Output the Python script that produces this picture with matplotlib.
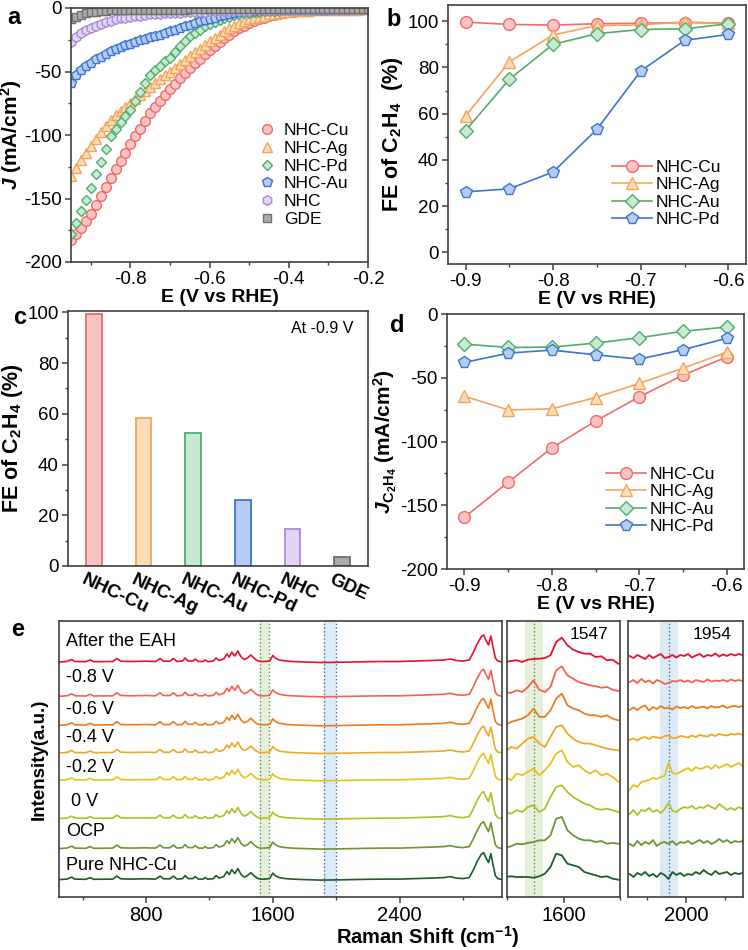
# Electrochemistry + Raman summary figure (panels a-e)

import numpy as np
import matplotlib.pyplot as plt
import matplotlib.transforms as mtransforms
from matplotlib.ticker import MultipleLocator

plt.rcParams['font.family'] = ['Liberation Sans', 'DejaVu Sans']
plt.rcParams['axes.unicode_minus'] = False
plt.rcParams['mathtext.fontset'] = 'custom'
plt.rcParams['mathtext.rm'] = 'Liberation Sans:bold'
plt.rcParams['mathtext.bf'] = 'Liberation Sans:bold'
plt.rcParams['mathtext.it'] = 'Liberation Sans:bold:italic'
plt.rcParams['axes.linewidth'] = 1.2
plt.rcParams['axes.edgecolor'] = '#404040'

# ---------------- data ----------------
# a: LSV curves
E_lsv = np.linspace(-0.95, -0.2, 61)
j_cu = [-183, -178, -173, -167.5, -162, -155, -148, -141, -134, -127,
        -120.5, -114, -107, -101, -95, -89, -83, -78, -73, -68.5,
        -64, -59.5, -55.5, -51, -47, -43.5, -40, -36.5, -33, -30,
        -27, -24, -21, -18.5, -16, -14, -12, -10.5, -9, -7.7,
        -6.5, -5.6, -4.8, -4.1, -3.5, -3.1, -2.7, -2.3, -2.0, -1.9,
        -1.8, -1.6, -1.5, -1.4, -1.3, -1.3, -1.2, -1.1, -1.1, -1.0, -1.0]
j_ag = [-132, -126, -120, -114.5, -109, -103.5, -98, -93, -88, -84.5,
        -81, -78, -75, -71.5, -68.5, -65, -62, -59, -56, -53,
        -50, -47, -44, -41, -38, -35, -32, -29, -26, -23.5,
        -21, -18.5, -16, -14, -12, -10.5, -9, -8, -7, -6,
        -5, -4.4, -3.9, -3.4, -3, -2.7, -2.4, -2.2, -2, -1.9,
        -1.8, -1.7, -1.6, -1.5, -1.4, -1.4, -1.3, -1.2, -1.2, -1.1, -1.1]
j_pd = [-178, -169, -160, -151, -142, -131, -121, -111, -101, -95,
        -90, -85, -80, -73, -66, -59, -53, -49, -45.5, -42,
        -39, -34.5, -30, -26, -22, -19.5, -17, -14.5, -12.5, -10.8,
        -9.3, -8, -6.8, -5.8, -5, -4.2, -3.6, -3.2, -2.9, -2.6,
        -2.4, -2.2, -2.0, -1.9, -1.8, -1.7, -1.6, -1.5, -1.5, -1.4,
        -1.4, -1.3, -1.3, -1.2, -1.2, -1.2, -1.1, -1.1, -1.1, -1.0, -1.0]
j_au = [-59, -53, -49, -46, -43, -40.5, -38.5, -36, -34, -32.5,
        -31, -29.5, -28, -27, -25.5, -24.5, -23, -22, -21, -19.5,
        -18, -17, -15.5, -14.5, -13, -12, -10.5, -9.5, -8.5, -7.5,
        -6.5, -5.5, -4.5, -3.8, -3.2, -2.7, -2.3, -2.0, -1.9, -1.8,
        -1.7, -1.6, -1.6, -1.5, -1.5, -1.4, -1.4, -1.3, -1.3, -1.3,
        -1.2, -1.2, -1.2, -1.1, -1.1, -1.1, -1.0, -1.0, -1.0, -1.0, -1.0]
j_nhc = [-27, -23, -20, -17.5, -15.5, -14, -12.5, -11, -10, -9,
         -8, -7.5, -7, -6.5, -6, -5.5, -5, -4.8, -4.5, -4.2,
         -4, -3.8, -3.6, -3.4, -3.2, -3.0, -2.9, -2.8, -2.7, -2.6,
         -2.5, -2.4, -2.3, -2.2, -2.1, -2.0, -2.0, -1.9, -1.9, -1.8,
         -1.8, -1.7, -1.7, -1.6, -1.6, -1.5, -1.5, -1.5, -1.4, -1.4,
         -1.4, -1.3, -1.3, -1.3, -1.2, -1.2, -1.2, -1.2, -1.1, -1.1, -1.1]
j_gde = [-9, -7, -5.5, -4.3, -3.5, -2.8, -2.3, -2.0, -1.7, -1.6,
         -1.5, -1.5, -1.4, -1.4, -1.4, -1.3, -1.3, -1.3, -1.3, -1.2,
         -1.2, -1.2, -1.2, -1.2, -1.1, -1.1, -1.1, -1.1, -1.1, -1.1,
         -1.0, -1.0, -1.0, -1.0, -1.0, -1.0, -1.0, -1.0, -1.0, -1.0,
         -1.0, -0.9, -0.9, -0.9, -0.9, -0.9, -0.9, -0.9, -0.9, -0.9,
         -0.9, -0.9, -0.9, -0.9, -0.9, -0.9, -0.9, -0.9, -0.9, -0.9, -0.9]

# b, d: FE and partial current density
E_fe = [-0.9, -0.85, -0.8, -0.75, -0.7, -0.65, -0.6]
fe_cu = [99.6, 98.6, 98.3, 98.9, 99.1, 99.4, 99.2]
fe_ag = [59.0, 82.4, 94.1, 98.1, 98.4, 99.6, 99.0]
fe_au = [52.7, 74.9, 90.0, 94.6, 96.4, 96.7, 98.9]
fe_pd = [26.2, 27.5, 34.8, 53.3, 78.5, 91.7, 94.3]
jc_cu = [-159.4, -132, -105, -84, -65, -48, -33.8]
jc_ag = [-64.5, -75.2, -74.4, -65.5, -54.5, -42.5, -30.1]
jc_au = [-23.6, -26.2, -26, -22.8, -18.6, -13.6, -10.2]
jc_pd = [-38, -30.7, -28.3, -32, -35.4, -28, -19.1]

# c: FE at -0.9 V
bar_names = ['NHC-Cu', 'NHC-Ag', 'NHC-Au', 'NHC-Pd', 'NHC', 'GDE']
bar_fe = [99.4, 58.4, 52.6, 25.9, 14.5, 3.6]

# e: Raman spectra
trace_labels = ['After the EAH', '-0.8 V', '-0.6 V', '-0.4 V', '-0.2 V', ' 0 V', 'OCP', 'Pure NHC-Cu']
raman_shift = [250, 300, 330, 350, 420, 446, 470, 590, 615, 640,
               700, 800, 860, 888, 910, 950, 972, 995, 1030, 1046,
               1065, 1095, 1110, 1130, 1160, 1173, 1190, 1225, 1242, 1260,
               1290, 1310, 1325, 1341, 1360, 1379, 1400, 1420, 1440, 1461,
               1480, 1500, 1520, 1550, 1580, 1600, 1615, 1640, 1680, 1720,
               1800, 1900, 2000, 2100, 2200, 2300, 2400, 2500, 2600, 2680,
               2720, 2760, 2800, 2840, 2864, 2890, 2915, 2931, 2945, 2962,
               2977, 2990, 3005, 3020, 3050]
raman_base = [0, 0.5, 2.5, 0.5, 0.3, 2, 0.3, 0.5, 3.5, 0.8,
              0.5, 0.8, 0.5, 3.5, 0.8, 0.8, 3.5, 0.5, 1, 4,
              1, 1, 3, 0.5, 0.5, 2, 0.3, 1, 4, 1.5,
              3, 8, 5, 10, 6, 11, 5, 2.5, 4, 7,
              4, 1.5, 0.5, 0.5, 1, 6.5, 4, 2, 1, 0.5,
              0, -0.5, -0.3, 0, 0.3, 0.5, 0.5, 1, 1.5, 2,
              3, 1.5, 1, 2, 9, 18, 25, 27, 22, 17,
              26, 15, 4, 1, 0]
main_offsets = [235, 200.7, 171.7, 144, 116.7, 78.4, 48.4, 17.4]

shift_1547 = np.arange(1497, 1700, 10)
spec_1547 = [
    [0, 1, 1.7, 0, 2.3, 3, 3.3, 4, 6.7, 20, 24.3, 16.7, 12.3, 10, 8.3, 8.3, 5, 5.7, 1.7, 2.3, -1.7],
    [0, -1, 1.7, 0, 5, 11.7, 2.3, 0, 5, 21.7, 25.7, 16.7, 13.3, 10, 8.3, 6.7, 5.7, 4.3, 5, 2.3, 1],
    [-1.7, 1.7, 3.3, 5, 8.3, 15, 6.7, 6.7, 13.3, 25, 30, 18.3, 15, 13.3, 10, 8.3, 8.3, 6.7, 8.3, 5, 3.3],
    [-1.7, 3.3, 1.7, 6.7, 11.7, 13.3, 6.7, 3.3, 13.3, 23.3, 25, 16.7, 11.7, 8.3, 6.7, 6.7, 5, 3.3, 1.7, 0.7, 0],
    [1.7, -1.7, 5, 3.3, 6.7, 10, 3.3, 8.3, 15, 25, 28.3, 16.7, 11.7, 13.3, 8.3, 5, 8.3, 3.3, 5, 1.7, -3.3],
    [0, -1.7, 1.7, 0, 5, 6.7, 0, 3.3, 15, 25, 26.7, 20, 15, 11.7, 8.3, 6.7, 3.3, 2.3, 3.3, 1.7, 0],
    [-0.7, 0.7, 3.3, 2.7, 4, 5, 6.7, 6.7, 11.7, 28.3, 30, 16.7, 11.7, 8.3, 6.7, 6.7, 5, 6, 3.3, 4, 3.3],
    [0, 0.7, 0, 0, 0, -0.7, 0.7, 3.3, 10, 23.3, 21.7, 13.3, 11.7, 10, 5, 3.3, 1.7, 0, 0.7, -1.7, -2.7],
]
offsets_1547 = [235, 205, 173.4, 146.7, 118.4, 85, 50, 20]

shift_1954 = np.arange(1854, 2145, 10)
spec_1954 = [
    [1, -1, 2, 0, -2, 2, -1, 1, 3, -1, 0, 2, -0.5, 2, 1, 3, -0.5, 1.5, 3, 0, 2, 1, 3.5, 0.5, 2.5, 1, 3, 1.5, 3, 2],
    [0, 2, -1, 3, 0, 1.5, -1.5, 2, 0.5, -2, -1, 1, 0.5, 2, 0, 1.5, -0.5, 2, 1, 0, 2.5, 0.5, 1.5, 1, 2, 0.5, 2.5, 1, 2, 1],
    [-1, 1.5, -1, 2, 3.5, -1.5, 2, 0, 3, 0.5, 1.5, -0.5, 2.5, 1, 2, 0.5, 3, 1, 1.5, 2.5, 0.5, 3, 1.5, 2, 3.5, 1, 2.5, 3, 2, 3],
    [-1, 0.5, -1.5, 1, 2, 0, 2.5, 1.5, 1, 3, 3.5, 1, 1, 3, 2.5, 1.5, 3.5, 2, 4, 3, 2.5, 4.5, 3, 5, 4, 3.5, 5, 4.5, 5.5, 4],
    [-13, -8, -10, -5, -4, -3, -1, -2, 0, 1, 14, 4, 3, 5, 7, 9, 6, 10, 8, 9, 11, 8, 12, 9, 11, 13, 10, 12, 14, 11],
    [-2, 2, -3, 2, 1, 4, 0, 2, -1, 3, 9, 1, 0, 3, 5, 4, 6, 3, 5, 4, 7, 5, 3, 8, 5, 2, 4, 2, 5, 3],
    [0, -2, 3, -1, 2, 0, 4, -2, 1, 2, 0, 3, -1, 2, 1, 3, 0, 2, 4, 1, 3, 0, 2, 5, 2, 4, 1, 3, 2, 3],
    [1, -2, 2, 0, 3, -1, 1, -2, 2, 0, -4, 3, 0, 2, -1, 1, 0, 3, 1, 5, 2, 0, 4, 1, 2, 3, 0, 2, 1, 2],
]
offsets_1954 = [240, 215, 188, 158, 120, 85, 53, 22]

# ---------------- styles ----------------
edge = {'Cu': '#F26B6B', 'Ag': '#F5A55A', 'Pd': '#4FAE6E', 'Au': '#3F74D0',
        'NHC': '#A98BD6', 'GDE': '#707070'}
face = {'Cu': '#F9C4C4', 'Ag': '#FCDDB8', 'Pd': '#C9E9D2', 'Au': '#B5CDF2',
        'NHC': '#E3D6F4', 'GDE': '#ABABAB'}
trace_colors = ['#E8112D', '#F4624F', '#F07B1F', '#F0A824', '#E6C21E',
                '#B5BD2A', '#6C9530', '#1D5B2A']

W, H = 748, 950
fig = plt.figure(figsize=(W / 100, H / 100), dpi=100)


def px_axes(l, t, r, b):
    return fig.add_axes([l / W, 1 - b / H, (r - l) / W, (b - t) / H])


def style(ax, fs=13.5):
    ax.tick_params(which='major', length=4, width=1.1, labelsize=fs, color='#404040', pad=2.5)
    ax.tick_params(which='minor', length=2.5, width=1.0, color='#404040')


# ---------------- a ----------------
ax = px_axes(71, 8, 368, 262)
lsv = [('NHC-Cu', j_cu, 'o', 'Cu'), ('NHC-Ag', j_ag, '^', 'Ag'), ('NHC-Pd', j_pd, 'D', 'Pd'),
       ('NHC-Au', j_au, 'p', 'Au'), ('NHC', j_nhc, 'h', 'NHC'), ('GDE', j_gde, 's', 'GDE')]
for lab, j, m, k in lsv:
    ms = 5.4 if m == 'D' else (5.8 if m == 's' else 7.0)
    ax.plot(E_lsv, j, ls='none', marker=m, ms=ms, mfc=face[k], mec=edge[k], mew=1.0,
            label=lab)
ax.set_xlim(-0.95, -0.2)
ax.set_ylim(-200, 0)
ax.xaxis.set_major_locator(MultipleLocator(0.2))
ax.xaxis.set_minor_locator(MultipleLocator(0.1))
ax.yaxis.set_major_locator(MultipleLocator(50))
ax.yaxis.set_minor_locator(MultipleLocator(25))
style(ax)
ax.set_xlabel('E (V vs RHE)', fontsize=14, fontweight='bold', labelpad=1)
ax.set_ylabel(r'$\it{J}$ (mA/cm$^2$)', fontsize=15, fontweight='bold', labelpad=0)
ax.legend(loc='upper left', bbox_to_anchor=(258 / W, 1 - 123 / H), bbox_transform=fig.transFigure,
          frameon=False, fontsize=12.5, handlelength=1.0, handletextpad=0.5, labelspacing=0.15,
          borderpad=0, borderaxespad=0)

# ---------------- b ----------------
ax = px_axes(448, 5, 746, 264)
fe_series = [('NHC-Cu', fe_cu, 'o', 'Cu'), ('NHC-Ag', fe_ag, '^', 'Ag'),
             ('NHC-Au', fe_au, 'D', 'Pd'), ('NHC-Pd', fe_pd, 'p', 'Au')]
for lab, v, m, k in fe_series:
    ms = 7 if m == 'D' else 8.5
    ax.plot(E_fe, v, color=edge[k], lw=1.2, marker=m, ms=ms, mfc=face[k], mec=edge[k],
            mew=1.0, label=lab)
ax.set_xlim(-0.92, -0.58)
ax.set_ylim(-5, 107)
ax.xaxis.set_major_locator(MultipleLocator(0.1))
ax.xaxis.set_minor_locator(MultipleLocator(0.05))
ax.yaxis.set_major_locator(MultipleLocator(20))
ax.yaxis.set_minor_locator(MultipleLocator(10))
style(ax)
ax.set_xlabel('E (V vs RHE)', fontsize=14, fontweight='bold', labelpad=1)
ax.set_ylabel('FE of C$_2$H$_4$  (%)', fontsize=15.5, fontweight='bold', labelpad=2)
ax.legend(loc='upper left', bbox_to_anchor=(612 / W, 1 - 160 / H), bbox_transform=fig.transFigure,
          frameon=False, fontsize=12.5, handlelength=2.3, handletextpad=0.2, labelspacing=0.12,
          borderpad=0, borderaxespad=0)

# ---------------- c ----------------
ax = px_axes(68, 311, 368, 566)
bar_keys = ['Cu', 'Ag', 'Pd', 'Au', 'NHC', 'GDE']
pos = np.arange(len(bar_names))
ax.bar(pos, bar_fe, width=0.32, color=[face[k] for k in bar_keys],
       edgecolor=[edge[k] for k in bar_keys], linewidth=1.3)
ax.set_xlim(-0.52, 5.52)
ax.set_ylim(0, 100.5)
ax.yaxis.set_major_locator(MultipleLocator(20))
ax.yaxis.set_minor_locator(MultipleLocator(10))
ax.set_xticks(pos)
ax.set_xticklabels(bar_names, rotation=-25, ha='left', rotation_mode='anchor',
                   fontsize=12, fontweight='bold')
style(ax)
ax.tick_params(axis='x', length=0, pad=4)
off = mtransforms.ScaledTranslation(-8 / 100, 0, fig.dpi_scale_trans)
for t in ax.get_xticklabels():
    t.set_transform(t.get_transform() + off)
ax.set_ylabel('FE of C$_2$H$_4$ (%)', fontsize=15.5, fontweight='bold', labelpad=2)
ax.text(0.95, 0.93, 'At -0.9 V', transform=ax.transAxes, ha='right', va='center', fontsize=11.5)

# ---------------- d ----------------
ax = px_axes(447, 314, 744, 569)
jc_series = [('NHC-Cu', jc_cu, 'o', 'Cu'), ('NHC-Ag', jc_ag, '^', 'Ag'),
             ('NHC-Au', jc_au, 'D', 'Pd'), ('NHC-Pd', jc_pd, 'p', 'Au')]
for lab, v, m, k in jc_series:
    ms = 7 if m == 'D' else 8.5
    ax.plot(E_fe, v, color=edge[k], lw=1.2, marker=m, ms=ms, mfc=face[k], mec=edge[k],
            mew=1.0, label=lab)
ax.set_xlim(-0.92, -0.58)
ax.set_ylim(-200, 0)
ax.xaxis.set_major_locator(MultipleLocator(0.1))
ax.xaxis.set_minor_locator(MultipleLocator(0.05))
ax.yaxis.set_major_locator(MultipleLocator(50))
ax.yaxis.set_minor_locator(MultipleLocator(25))
style(ax)
ax.set_xlabel('E (V vs RHE)', fontsize=14, fontweight='bold', labelpad=1)
ax.set_ylabel(r'$\it{J}_{\rm{C_2H_4}}$ (mA/cm$^2$)', fontsize=15, fontweight='bold', labelpad=1)
ax.legend(loc='upper left', bbox_to_anchor=(606 / W, 1 - 467 / H), bbox_transform=fig.transFigure,
          frameon=False, fontsize=12.5, handlelength=2.3, handletextpad=0.2, labelspacing=0.12,
          borderpad=0, borderaxespad=0)

# ---------------- e ----------------
axm = px_axes(59, 621, 502, 897)
ax2 = px_axes(507, 621, 620, 897)
ax3 = px_axes(628, 621, 743, 897)
green_band, blue_band = '#E6EFDC', '#DDEBF7'
green_dot, blue_dot = '#4E9A3A', '#2F72BF'

axm.axvspan(1517, 1577, color=green_band, lw=0, zorder=0)
axm.axvspan(1920, 1996, color=blue_band, lw=0, zorder=0)
for xv in (1517, 1577):
    axm.axvline(xv, color=green_dot, ls=':', lw=1.0, zorder=1)
for xv in (1920, 1996):
    axm.axvline(xv, color=blue_dot, ls=':', lw=1.0, zorder=1)
for i, c in enumerate(trace_colors):
    axm.plot(raman_shift, np.array(raman_base) + main_offsets[i], color=c, lw=1.2, zorder=2)
axm.set_xlim(250, 3047)
axm.xaxis.set_major_locator(MultipleLocator(800))
axm.xaxis.set_minor_locator(MultipleLocator(400))
label_y = [641, 678, 710, 738, 767, 801, 832, 865]
for lab, yy in zip(trace_labels, label_y):
    fig.text(66 / W, 1 - yy / H, lab, fontsize=13, ha='left', va='center')

ax2.axvspan(1531, 1564, color=green_band, lw=0, zorder=0)
ax2.axvline(1547, color=green_dot, ls=':', lw=1.0, zorder=1)
for i, c in enumerate(trace_colors):
    ax2.plot(shift_1547, np.array(spec_1547[i]) + offsets_1547[i], color=c, lw=1.3, zorder=2)
ax2.set_xlim(1500, 1700)
ax2.set_xticks([1600])
ax2.set_xticks([1500, 1700], minor=True)
ax2.text(0.9, 0.95, '1547', transform=ax2.transAxes, ha='right', va='center', fontsize=12.5)

ax3.axvspan(1931, 1977, color=blue_band, lw=0, zorder=0)
ax3.axvline(1954, color=blue_dot, ls=':', lw=1.0, zorder=1)
for i, c in enumerate(trace_colors):
    ax3.plot(shift_1954, np.array(spec_1954[i]) + offsets_1954[i], color=c, lw=1.3, zorder=2)
ax3.set_xlim(1850, 2145)
ax3.set_xticks([2000])
ax3.set_xticks([1900, 2100], minor=True)
ax3.text(0.9, 0.95, '1954', transform=ax3.transAxes, ha='right', va='center', fontsize=12.5)

for a_ in (axm, ax2, ax3):
    a_.set_ylim(0, 276)
    a_.set_yticks([])
    style(a_, fs=14.5)

axm.set_ylabel('Intensity(a.u.)', fontsize=13.5, fontweight='bold', labelpad=8)
fig.text(428 / W, 1 - 937 / H, 'Raman Shift (cm$^{-1}$)', fontsize=14.5, fontweight='bold',
         ha='center', va='center')

# panel letters
for letter, (x, y) in zip('abcde', [(14, 17), (394, 20), (20, 317), (397, 325), (18, 630)]):
    fig.text(x / W, 1 - y / H, letter, fontsize=17, fontweight='bold', ha='center', va='center')

plt.savefig('out.png', dpi=100)
